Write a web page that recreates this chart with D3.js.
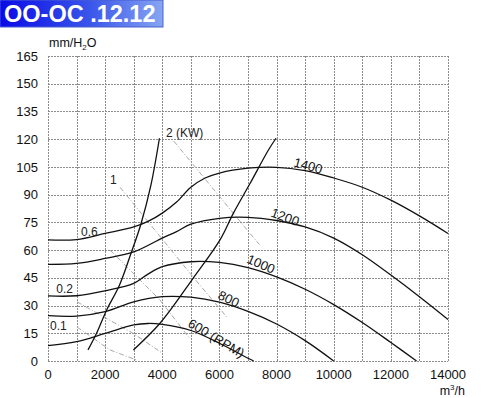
<!DOCTYPE html>
<html>
<head>
<meta charset="utf-8">
<script src="https://cdn.jsdelivr.net/npm/d3@7"></script>
<style>
  body { margin: 0; background: #fff; }
  svg { display: block; font-family: "Liberation Sans", Arial, sans-serif; }
</style>
</head>
<body>
<svg id="chart" width="488" height="398"></svg>
<script>
// axis ticks
const xTicks = [0, 2000, 4000, 6000, 8000, 10000, 12000, 14000];
const yTicks = [0, 15, 30, 45, 60, 75, 90, 105, 120, 135, 150, 165];

// fan curves, [m3/h, mm H2O]
const rpm1400 = [[0,65.5],[1000,65.7],[2000,69],[3000,72.5],[3500,75.5],[4000,80],[4500,86],[5000,94],[5500,99],[6000,101.7],[7000,104.3],[8000,104.8],[9000,103],[10000,99],[11000,94],[12000,87],[13000,78.5],[14000,69]];
const rpm1200 = [[0,52.3],[1000,52.8],[2000,55.5],[3000,59],[4000,66.5],[4500,70],[5000,74],[6000,77.2],[7000,77.7],[8000,76],[9000,72.5],[10000,66.5],[11000,57.5],[12000,46.5],[13000,34.8],[14000,22.5]];
const rpm1000 = [[0,35.2],[1000,35.3],[2000,38],[3000,42],[3500,47],[4000,51],[5000,53.7],[6000,53.3],[7000,50.5],[8000,45.5],[9000,38.8],[10000,30.5],[11000,20.8],[12000,10],[12900,0]];
const rpm800 = [[0,24.5],[1000,24.3],[2000,26.7],[3000,32],[4000,34.8],[5000,34.5],[6000,31.8],[7000,26.8],[8000,20],[9000,11],[10000,0]];
const rpm600 = [[0,8.3],[1000,10.5],[2000,14.9],[3000,19.5],[3500,20.3],[4000,19.8],[5000,16.5],[6000,9.6],[7000,1.5],[7200,0]];

// boundary lines
const limitLeft = [[1400,6],[1700,15],[2050,27.5],[2500,41],[2900,58],[3250,74],[3600,95],[3900,120.5]];
const limitRight = [[2990,6],[3920,20.4],[5090,45],[6020,65.5],[6490,80],[7070,96],[7710,114],[7980,120.5]];

// power lines (KW)
const power2 = [[4400,119],[7070,69],[7400,63]];
const power1 = [[2520,94],[5075,45.5],[6300,23]];
const power06 = [[2170,60],[3920,33],[4970,12]];
const power02 = [[1015,32],[2975,15],[4025,4]];
const power01 = [[1015,18.4],[2170,6],[3100,0.5]];

const rpmLabels = [
  {text: "1400", q: 8575, p: 105.3, rot: 15},
  {text: "1200", q: 7770, p: 78.3, rot: 20},
  {text: "1000", q: 6930, p: 53.4, rot: 24},
  {text: "800", q: 5915, p: 34, rot: 26},
  {text: "600 (RPM)", q: 4865, p: 19, rot: 31}
];
const powerLabels = [
  {text: "2 (KW)", q: 4130, p: 121.2},
  {text: "1", q: 2170, p: 95.8},
  {text: "0.6", q: 1155, p: 67.8},
  {text: "0.2", q: 290, p: 36.8},
  {text: "0.1", q: 70, p: 16.8}
];

const svg = d3.select("#chart");

const x = d3.scaleLinear().domain([0, 14000]).range([48, 448]);
const y = d3.scaleLinear().domain([0, 165]).range([361, 56]);

// title box
const grad = svg.append("defs").append("linearGradient")
    .attr("id", "titleGrad")
    .attr("x1", "0%").attr("x2", "100%");
grad.append("stop").attr("offset", "0%").attr("stop-color", "#0a0ae6");
grad.append("stop").attr("offset", "55%").attr("stop-color", "#3a55ea");
grad.append("stop").attr("offset", "100%").attr("stop-color", "#86a6f2");
svg.append("rect")
    .attr("x", 0).attr("y", 0)
    .attr("width", 163).attr("height", 27)
    .attr("fill", "url(#titleGrad)")
    .attr("stroke", "#4a5fd0").attr("stroke-width", 1);
svg.append("text")
    .attr("x", 4).attr("y", 21.5)
    .attr("fill", "#fff")
    .attr("font-size", 23.5)
    .attr("font-weight", "bold")
    .text("OO-OC .12.12");

// grid
const gridX = d3.range(0, 14001, 1000);
const gridY = d3.range(0, 166, 15);
const grid = svg.append("g")
    .attr("stroke", "#8c8c8c")
    .attr("stroke-width", 1)
    .attr("stroke-dasharray", "2,1");
grid.selectAll(".gx")
    .data(gridX)
    .enter()
    .append("line")
        .attr("x1", d => Math.round(x(d)) + 0.5)
        .attr("x2", d => Math.round(x(d)) + 0.5)
        .attr("y1", y(165))
        .attr("y2", y(0));
grid.selectAll(".gy")
    .data(gridY)
    .enter()
    .append("line")
        .attr("x1", x(0))
        .attr("x2", x(14000))
        .attr("y1", d => Math.round(y(d)) + 0.5)
        .attr("y2", d => Math.round(y(d)) + 0.5);

// axes labels
svg.selectAll(".xt")
    .data(xTicks)
    .enter()
    .append("text")
        .attr("x", d => x(d))
        .attr("y", 379)
        .attr("text-anchor", "middle")
        .attr("font-size", 13)
        .attr("fill", "#111")
        .text(d => d);
svg.selectAll(".yt")
    .data(yTicks)
    .enter()
    .append("text")
        .attr("x", 38)
        .attr("y", d => y(d))
        .attr("dy", "0.36em")
        .attr("text-anchor", "end")
        .attr("font-size", 13)
        .attr("fill", "#111")
        .text(d => d);

const yUnit = svg.append("text")
    .attr("x", 49).attr("y", 47)
    .attr("font-size", 12.5)
    .attr("fill", "#111");
yUnit.append("tspan").text("mm/H");
yUnit.append("tspan").attr("font-size", 8).attr("dy", 3).text("2");
yUnit.append("tspan").attr("dy", -3).text("O");

const xUnit = svg.append("text")
    .attr("x", 465).attr("y", 395)
    .attr("text-anchor", "end")
    .attr("font-size", 12.5)
    .attr("fill", "#111");
xUnit.append("tspan").text("m");
xUnit.append("tspan").attr("font-size", 8).attr("dy", -5).text("3");
xUnit.append("tspan").attr("dy", 5).text("/h");

// power lines
const straight = d3.line().x(d => x(d[0])).y(d => y(d[1]));
[power2, power1, power06, power02, power01].forEach(function(s) {
    svg.append("path")
        .attr("d", straight(s))
        .attr("fill", "none")
        .attr("stroke", "#a8a8a8")
        .attr("stroke-width", 1)
        .attr("stroke-dasharray", "5,2,1,2");
});

// fan curves and limit lines
const smooth = d3.line()
    .x(d => x(d[0]))
    .y(d => y(d[1]))
    .curve(d3.curveCatmullRom.alpha(0.5));
[rpm1400, rpm1200, rpm1000, rpm800, rpm600, limitLeft, limitRight].forEach(function(s) {
    svg.append("path")
        .attr("d", smooth(s))
        .attr("fill", "none")
        .attr("stroke", "#111")
        .attr("stroke-width", 1.3);
});

// labels
svg.selectAll(".rl")
    .data(rpmLabels)
    .enter()
    .append("text")
        .attr("transform", d => "translate(" + x(d.q) + "," + y(d.p) + ")rotate(" + d.rot + ")")
        .attr("font-size", 13)
        .attr("fill", "#111")
        .text(d => d.text);
svg.selectAll(".pl")
    .data(powerLabels)
    .enter()
    .append("text")
        .attr("x", d => x(d.q))
        .attr("y", d => y(d.p))
        .attr("font-size", 12)
        .attr("fill", "#222")
        .text(d => d.text);
</script>
</body>
</html>
